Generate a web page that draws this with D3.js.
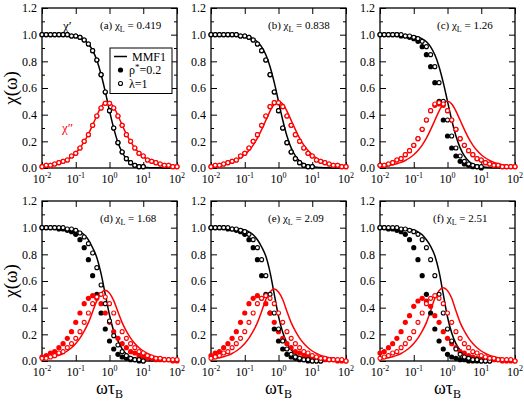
<!DOCTYPE html>
<html><head><meta charset="utf-8">
<script src="https://cdn.jsdelivr.net/npm/d3@7"></script>
<style>body{margin:0;background:#fff;} svg{display:block;} text{font-family:"Liberation Serif","Times New Roman",Times,serif;}</style>
</head><body><svg id="chart" width="524" height="401"></svg>
<script>
// ---- data: log10(omega*tauB) grid ----
const logWT = [-2,-1.875,-1.75,-1.625,-1.5,-1.375,-1.25,-1.125,-1,-0.875,-0.75,-0.625,-0.5,-0.375,-0.25,-0.125,0,0.125,0.25,0.375,0.5,0.625,0.75,0.875,1,1.125,1.25,1.375,1.5,1.625,1.75,1.875,2];
const xTickExp = [-2,-1,0,1,2];
const yMajor = [0,0.2,0.4,0.6,0.8,1.0,1.2];
const yMinor = [0.1,0.3,0.5,0.7,0.9,1.1];
const panelTags = ["(a)","(b)","(c)","(d)","(e)","(f)"];
const chiLValues = ["0.419","0.838","1.26","1.68","2.09","2.51"];

// (a) chi_L = 0.419
const aLineRe = [1,1,1,.999,.999,.998,.996,.993,.987,.977,.960,.930,.882,.808,.703,.572,.429,.297,.192,.118,.070,.041,.023,.013,.007,.004,.002,.001,.001,0,0,0,0];
const aLineIm = [.012,.015,.021,.027,.037,.049,.065,.086,.114,.150,.197,.255,.322,.394,.457,.490,.490,.457,.394,.322,.255,.197,.150,.114,.086,.065,.049,.037,.027,.021,.015,.012,.009];
const aRhoRe = [1,1,1,1,1,1,1,.99,.99,.98,.96,.93,.88,.81,.70,.57,.43,.30,.19,.12,.07,.04,.02,.01,.01];
const aRhoIm = [.01,.02,.02,.03,.04,.05,.06,.09,.11,.15,.20,.25,.32,.39,.45,.485,.485,.45,.39,.32,.25,.20,.15,.11,.09,.06,.05,.04,.03,.02,.02,.01,.01];
const aLamRe = [1,1,1,1,1,1,1,.99,.99,.98,.96,.93,.88,.81,.70,.57,.43,.30,.19,.12,.07,.04,.02,.01,.01];
const aLamIm = [.01,.02,.02,.03,.04,.05,.06,.09,.11,.15,.20,.25,.32,.39,.45,.485,.485,.45,.39,.32,.25,.20,.15,.11,.09,.06,.05,.04,.03,.02,.02,.01,.01];

// (b) chi_L = 0.838
const bLineRe = [1,1,1,.999,.999,.998,.997,.994,.990,.982,.969,.947,.909,.849,.760,.640,.500,.360,.240,.151,.091,.053,.031,.018,.010,.006,.003,.002,.001,0,0,0,0];
const bLineIm = [.010,.013,.018,.024,.032,.042,.056,.075,.099,.131,.172,.224,.288,.358,.427,.480,.500,.480,.427,.358,.288,.224,.172,.131,.099,.075,.056,.042,.032,.024,.018,.013,.010];
const bRhoRe = [1,1,1,1,1,1,1,.99,.99,.98,.96,.93,.88,.81,.70,.57,.43,.30,.19,.12,.07,.04,.02,.01,.01];
const bRhoIm = [.01,.02,.02,.03,.04,.05,.06,.09,.11,.15,.20,.25,.32,.39,.46,.49,.49,.46,.39,.32,.25,.20,.15,.11,.09,.06,.05,.04,.03,.02,.02,.01,.01];
const bLamRe = [1,1,1,1,1,1,1,.99,.99,.98,.96,.93,.88,.81,.70,.57,.43,.30,.19,.12,.07,.04,.02,.01,.01];
const bLamIm = [.01,.02,.02,.03,.04,.05,.06,.09,.11,.15,.20,.25,.32,.39,.46,.49,.49,.46,.39,.32,.25,.20,.15,.11,.09,.06,.05,.04,.03,.02,.02,.01,.01];

// (c) chi_L = 1.26
const cLineRe = [1,1,1,.999,.999,.998,.997,.994,.990,.982,.969,.947,.909,.849,.760,.640,.500,.360,.240,.151,.091,.053,.031,.018,.010,.006,.003,.002,.001,0,0,0,0];
const cLineIm = [.010,.013,.018,.024,.032,.042,.056,.075,.099,.131,.172,.224,.288,.358,.427,.480,.500,.480,.427,.358,.288,.224,.172,.131,.099,.075,.056,.042,.032,.024,.018,.013,.010];
const cRhoRe = [1,1,1,1,1,.99,.99,.98,.97,.95,.91,.85,.76,.64,.50,.36,.24,.15,.09,.05,.03,.02,.01,.01,0];
const cRhoIm = [.02,.02,.03,.04,.06,.07,.10,.13,.17,.22,.29,.36,.43,.47,.48,.47,.43,.36,.29,.22,.17,.13,.10,.07,.06,.04,.03,.02,.02,.01,.01,.01,.01];
const cLamRe = [1,1,1,1,1,1,.99,.99,.98,.97,.95,.91,.85,.76,.64,.50,.36,.24,.15,.09,.05,.03,.02,.01,.01];
const cLamIm = [.02,.02,.03,.04,.06,.07,.10,.13,.17,.22,.29,.36,.43,.48,.49,.48,.43,.36,.29,.22,.17,.13,.10,.07,.06,.04,.03,.02,.02,.01,.01,.01,.01];

// (d) chi_L = 1.68
const dLineRe = [1,1,.999,.999,.998,.997,.994,.990,.982,.969,.947,.909,.849,.775,.655,.500,.345,.225,.151,.091,.053,.031,.018,.010,.006,.003,.002,.001,0,0,0,0,0];
const dLineIm = [.013,.018,.024,.032,.042,.056,.075,.099,.131,.172,.224,.288,.369,.453,.509,.530,.509,.453,.369,.288,.224,.172,.131,.099,.075,.056,.042,.032,.024,.018,.013,.010,.007];
const dRhoRe = [1,1,1,1,.99,.99,.98,.97,.95,.91,.85,.76,.64,.50,.36,.24,.15,.09,.05,.03,.02,.01,.01,0,0];
const dRhoIm = [.03,.04,.06,.07,.10,.13,.17,.22,.29,.36,.43,.47,.49,.47,.43,.36,.29,.22,.17,.13,.10,.07,.06,.04,.03,.02,.02,.01,.01,.01,.01,.00,.00];
const dLamRe = [1,1,1,1,1,1,.99,.99,.98,.96,.93,.88,.81,.70,.57,.43,.30,.19,.12,.07,.04,.02,.01,.01,0];
const dLamIm = [.02,.02,.03,.04,.06,.07,.10,.13,.17,.22,.29,.36,.43,.48,.50,.48,.43,.36,.29,.22,.17,.13,.10,.07,.06,.04,.03,.02,.02,.01,.01,.01,.01];

// (e) chi_L = 2.09
const eLineRe = [1,1,.999,.999,.998,.997,.994,.990,.982,.969,.947,.909,.855,.785,.665,.500,.335,.215,.135,.085,.050,.030,.018,.010,.006,.003,.002,.001,0,0,0,0,0];
const eLineIm = [.013,.018,.024,.032,.042,.056,.075,.099,.131,.172,.224,.288,.372,.461,.518,.540,.518,.461,.372,.288,.224,.172,.131,.099,.075,.056,.042,.032,.024,.018,.013,.010,.007];
const eRhoRe = [1,1,1,1,.99,.99,.98,.97,.95,.91,.85,.76,.64,.50,.36,.24,.15,.09,.05,.03,.02,.01,.01,0,0,0,0];
const eRhoIm = [.04,.06,.07,.10,.13,.17,.22,.29,.36,.43,.47,.49,.47,.43,.36,.29,.22,.17,.13,.10,.07,.06,.04,.03,.02,.02,.01,.01,.01,.01,.00,.00,.00];
const eLamRe = [1,1,1,1,1,.99,.99,.98,.97,.95,.91,.85,.76,.64,.50,.36,.24,.15,.09,.05,.03,.02,.01,.01,0,0,0];
const eLamIm = [.02,.03,.04,.06,.07,.10,.13,.17,.22,.29,.36,.43,.47,.49,.47,.43,.36,.29,.22,.17,.13,.10,.07,.06,.04,.03,.02,.02,.01,.01,.01,.01,.00];

// (f) chi_L = 2.51
const fLineRe = [1,1,.999,.999,.998,.997,.994,.990,.982,.969,.947,.909,.860,.790,.670,.500,.330,.210,.130,.080,.048,.028,.017,.010,.006,.003,.002,.001,0,0,0,0,0];
const fLineIm = [.013,.018,.024,.032,.042,.056,.075,.099,.131,.172,.224,.288,.376,.470,.528,.550,.528,.470,.376,.288,.224,.172,.131,.099,.075,.056,.042,.032,.024,.018,.013,.010,.007];
const fRhoRe = [1,1,.99,.99,.98,.97,.95,.91,.85,.76,.64,.50,.36,.24,.15,.09,.05,.03,.02,.01,.01,0,0,0,0,0,0];
const fRhoIm = [.06,.07,.10,.13,.17,.22,.29,.34,.41,.45,.47,.45,.41,.34,.29,.22,.17,.13,.10,.07,.06,.04,.03,.02,.02,.01,.01,.01,.01,.00,.00,.00,.00];
const fLamRe = [1,1,1,1,1,.99,.99,.98,.97,.95,.91,.85,.76,.64,.50,.36,.24,.15,.09,.05,.03,.02,.01,.01,0,0,0];
const fLamIm = [.02,.03,.04,.06,.07,.10,.13,.17,.22,.29,.36,.43,.47,.49,.47,.43,.36,.29,.22,.17,.13,.10,.07,.06,.04,.03,.02,.02,.01,.01,.01,.01,.00];

const panelData = [
  {lineRe:aLineRe, lineIm:aLineIm, rhoRe:aRhoRe, rhoIm:aRhoIm, lamRe:aLamRe, lamIm:aLamIm},
  {lineRe:bLineRe, lineIm:bLineIm, rhoRe:bRhoRe, rhoIm:bRhoIm, lamRe:bLamRe, lamIm:bLamIm},
  {lineRe:cLineRe, lineIm:cLineIm, rhoRe:cRhoRe, rhoIm:cRhoIm, lamRe:cLamRe, lamIm:cLamIm},
  {lineRe:dLineRe, lineIm:dLineIm, rhoRe:dRhoRe, rhoIm:dRhoIm, lamRe:dLamRe, lamIm:dLamIm},
  {lineRe:eLineRe, lineIm:eLineIm, rhoRe:eRhoRe, rhoIm:eRhoIm, lamRe:eLamRe, lamIm:eLamIm},
  {lineRe:fLineRe, lineIm:fLineIm, rhoRe:fRhoRe, rhoIm:fRhoIm, lamRe:fLamRe, lamIm:fLamIm}
];

// ---- layout ----
const colX = [42, 211, 380], rowY = [8, 201], PW = 135, PH = 160;
const tagX = [100, 268, 437, 100, 268, 433];
const RED = "#ff0000", BLACK = "#000";
const svg = d3.select("#chart");

function pts(arr){ return arr.map((v,i)=>({w: Math.pow(10, logWT[i]), v})); }

panelData.forEach((p, idx) => {
  const x0 = colX[idx % 3], y0 = rowY[Math.floor(idx / 3)];
  const x = d3.scaleLog().domain([1e-2, 1e2]).range([x0, x0 + PW]);
  const y = d3.scaleLinear().domain([0, 1.2]).range([y0 + PH, y0]);
  const g = svg.append("g");
  const xt = xTickExp.map(e => Math.pow(10, e));

  const ax = [
    g.append("g").attr("transform", `translate(0,${y0+PH})`).call(d3.axisBottom(x).tickValues(xt).tickSizeInner(-6).tickSizeOuter(0).tickFormat("")),
    g.append("g").attr("transform", `translate(0,${y0})`).call(d3.axisTop(x).tickValues(xt).tickSizeInner(-6).tickSizeOuter(0).tickFormat("")),
    g.append("g").attr("transform", `translate(${x0},0)`).call(d3.axisLeft(y).tickValues(yMajor).tickSizeInner(-6).tickSizeOuter(0).tickPadding(5).tickFormat(d3.format(".1f"))),
    g.append("g").attr("transform", `translate(${x0},0)`).call(d3.axisLeft(y).tickValues(yMinor).tickSizeInner(-3).tickSizeOuter(0).tickFormat("")),
    g.append("g").attr("transform", `translate(${x0+PW},0)`).call(d3.axisRight(y).tickValues(yMajor).tickSizeInner(-6).tickSizeOuter(0).tickFormat("")),
    g.append("g").attr("transform", `translate(${x0+PW},0)`).call(d3.axisRight(y).tickValues(yMinor).tickSizeInner(-3).tickSizeOuter(0).tickFormat(""))
  ];
  ax.forEach(a => {
    a.select(".domain").remove();
    a.selectAll("line").attr("stroke", BLACK).attr("stroke-width", 1);
    a.selectAll("text").attr("font-family", null).attr("font-size", 12).attr("fill", BLACK);
  });

  xTickExp.forEach(e => {
    const t = g.append("text").attr("x", x(Math.pow(10, e))).attr("y", y0 + PH + 14.5)
      .attr("text-anchor", "middle").attr("font-size", 12);
    t.append("tspan").text("10");
    t.append("tspan").attr("dy", -5).attr("font-size", 8).text(String(e));
  });

  g.append("rect").attr("x", x0).attr("y", y0).attr("width", PW).attr("height", PH)
    .attr("fill", "none").attr("stroke", BLACK).attr("stroke-width", 1.3);

  const line = d3.line().x(d => x(d.w)).y(d => y(d.v)).curve(d3.curveMonotoneX);
  g.append("path").datum(pts(p.lineRe)).attr("d", line).attr("fill", "none").attr("stroke", BLACK).attr("stroke-width", 1.5);
  g.append("path").datum(pts(p.lineIm)).attr("d", line).attr("fill", "none").attr("stroke", RED).attr("stroke-width", 1.5);

  [[p.rhoRe, BLACK], [p.rhoIm, RED]].forEach(([arr, c]) => {
    g.append("g").selectAll("circle").data(pts(arr)).join("circle")
      .attr("cx", d => x(d.w)).attr("cy", d => y(d.v)).attr("r", 2.6).attr("fill", c);
  });
  [[p.lamRe, BLACK], [p.lamIm, RED]].forEach(([arr, c]) => {
    g.append("g").selectAll("circle").data(pts(arr)).join("circle")
      .attr("cx", d => x(d.w)).attr("cy", d => y(d.v)).attr("r", 2.0)
      .attr("fill", "#fff").attr("stroke", c).attr("stroke-width", 1.1);
  });

  const t = g.append("text").attr("x", tagX[idx]).attr("y", y0 + 21).attr("font-size", 11);
  t.append("tspan").text(panelTags[idx] + " \u03C7");
  t.append("tspan").attr("dy", 3).attr("font-size", 8).text("L");
  t.append("tspan").attr("dy", -3).text(" = " + chiLValues[idx]);

  if (idx % 3 === 0) {
    svg.append("text").attr("transform", `translate(17,${y0 + PH/2}) rotate(-90)`)
      .attr("text-anchor", "middle").attr("font-size", 19).text("\u03C7(\u03C9)");
  }
  if (idx >= 3) {
    const xt2 = svg.append("text").attr("x", x0 + PW/2).attr("y", 394).attr("text-anchor", "middle")
      .attr("font-size", 18);
    xt2.append("tspan").text("\u03C9\u03C4");
    xt2.append("tspan").attr("dy", 3.5).attr("font-size", 12).text("B");
  }

  if (idx === 0) {
    g.append("text").attr("x", 63).attr("y", 30).attr("font-size", 13).attr("fill", BLACK).text("\u03C7\u2032");
    g.append("text").attr("x", 62).attr("y", 132).attr("font-size", 13).attr("fill", RED).text("\u03C7\u2033");
    const lg = g.append("g");
    lg.append("rect").attr("x", 110).attr("y", 48).attr("width", 62).attr("height", 45.5)
      .attr("fill", "#fff").attr("stroke", BLACK).attr("stroke-width", 1);
    lg.append("line").attr("x1", 114).attr("x2", 127).attr("y1", 56.5).attr("y2", 56.5).attr("stroke", BLACK).attr("stroke-width", 1.5);
    lg.append("circle").attr("cx", 120.5).attr("cy", 70).attr("r", 2.6).attr("fill", BLACK);
    lg.append("circle").attr("cx", 120.5).attr("cy", 83.5).attr("r", 2.0).attr("fill", "#fff").attr("stroke", BLACK).attr("stroke-width", 1.1);
    lg.append("text").attr("x", 132).attr("y", 60.5).attr("font-size", 12).text("MMF1");
    const r = lg.append("text").attr("x", 129).attr("y", 74).attr("font-size", 12);
    r.append("tspan").text("\u03C1");
    r.append("tspan").attr("dy", -4).attr("font-size", 9).text("*");
    r.append("tspan").attr("dy", 4).text("=0.2");
    lg.append("text").attr("x", 129).attr("y", 87.5).attr("font-size", 12).text("\u03BB=1");
  }
});
</script>
</body></html>
